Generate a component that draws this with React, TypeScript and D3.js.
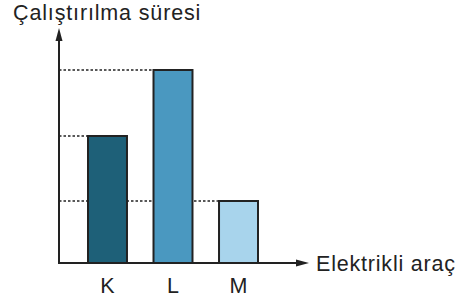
import React, { useRef, useEffect } from "react";
import * as d3 from "d3";

const categories = ["K", "L", "M"];
const values = [127, 193, 62];
const colors = ["#1e6078", "#4a98c0", "#a8d4ec"];
const yTitle = "Çalıştırılma süresi";
const xTitle = "Elektrikli araç";

const W = 465;
const H = 301;

const App: React.FC = () => {
  const svgRef = useRef<SVGSVGElement>(null);

  useEffect(() => {
    if (!svgRef.current) return;
    const svg = d3.select(svgRef.current);
    svg.selectAll("*").remove();

    const x0 = 59; // y-axis position
    const y0 = 263; // x-axis position
    const font = "'Liberation Sans', Arial, sans-serif";

    const x = d3
      .scaleBand<string>()
      .domain(categories)
      .range([88, 258])
      .paddingInner(0.405)
      .paddingOuter(0);
    const y = d3.scaleLinear().domain([0, 200]).range([y0, y0 - 200]);

    const data = categories.map((c, i) => ({ c, v: values[i], color: colors[i] }));

    // dotted guide lines (behind bars)
    svg
      .selectAll(".guide")
      .data(data)
      .enter()
      .append("line")
      .attr("x1", x0)
      .attr("x2", (d) => (x(d.c) as number) + x.bandwidth())
      .attr("y1", (d) => y(d.v))
      .attr("y2", (d) => y(d.v))
      .attr("stroke", "#222")
      .attr("stroke-width", 1.6)
      .attr("stroke-dasharray", "2.5,2");

    // bars
    svg
      .selectAll(".bar")
      .data(data)
      .enter()
      .append("rect")
      .attr("x", (d) => x(d.c) as number)
      .attr("y", (d) => y(d.v))
      .attr("width", x.bandwidth())
      .attr("height", (d) => y0 - y(d.v))
      .attr("fill", (d) => d.color)
      .attr("stroke", "#222")
      .attr("stroke-width", 2);

    // axes
    svg
      .append("line")
      .attr("x1", x0)
      .attr("x2", x0)
      .attr("y1", y0 + 1)
      .attr("y2", 38)
      .attr("stroke", "#222")
      .attr("stroke-width", 2);
    svg
      .append("path")
      .attr("d", `M${x0},28 L${x0 + 3.5},41 L${x0 - 3.5},41 Z`)
      .attr("fill", "#222");

    svg
      .append("line")
      .attr("x1", x0 - 1)
      .attr("x2", 298)
      .attr("y1", y0)
      .attr("y2", y0)
      .attr("stroke", "#222")
      .attr("stroke-width", 2);
    svg
      .append("path")
      .attr("d", `M309,${y0} L296,${y0 - 3.5} L296,${y0 + 3.5} Z`)
      .attr("fill", "#222");

    // tick labels
    svg
      .selectAll(".tick-label")
      .data(categories)
      .enter()
      .append("text")
      .attr("x", (d) => (x(d) as number) + x.bandwidth() / 2)
      .attr("y", 293)
      .attr("text-anchor", "middle")
      .attr("font-family", font)
      .attr("font-size", 21.5)
      .attr("fill", "#222")
      .text((d) => d);

    // axis titles
    svg
      .append("text")
      .attr("x", 13)
      .attr("y", 20)
      .attr("font-family", font)
      .attr("font-size", 21.5)
      .attr("letter-spacing", 0.85)
      .attr("fill", "#222")
      .text(yTitle);
    svg
      .append("text")
      .attr("x", 316)
      .attr("y", 271)
      .attr("font-family", font)
      .attr("font-size", 21.5)
      .attr("letter-spacing", 0.8)
      .attr("fill", "#222")
      .text(xTitle);
  }, []);

  return (
    <svg
      ref={svgRef}
      width={W}
      height={H}
      style={{ position: "absolute", left: 0, top: 0, background: "#fff" }}
    ></svg>
  );
};

export default App;
